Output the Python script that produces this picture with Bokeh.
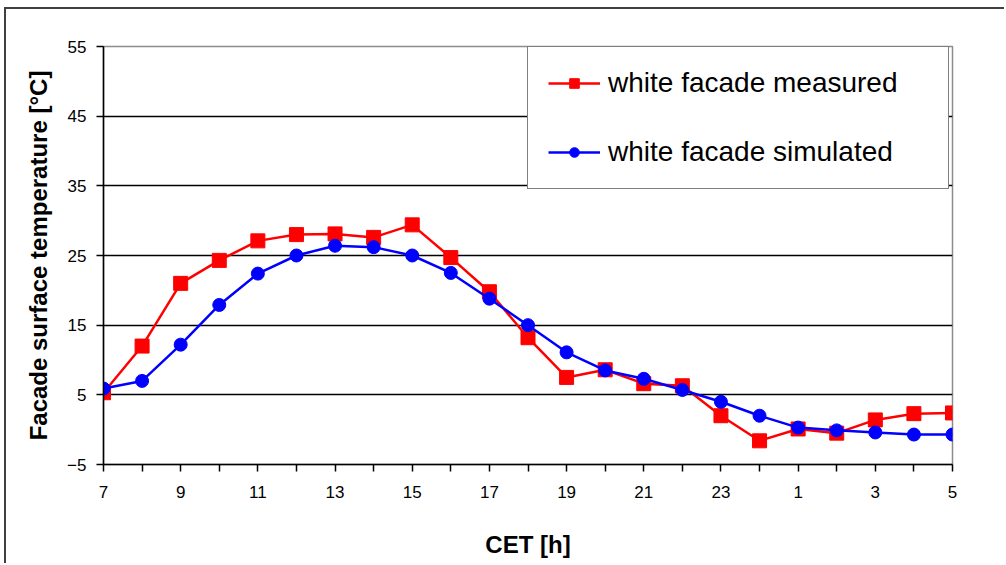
from bokeh.plotting import figure
from bokeh.models import FixedTicker, Legend, LegendItem, Range1d
from bokeh.embed import file_html
from bokeh.resources import INLINE

# ---- data ----
hours = [7, 8, 9, 10, 11, 12, 13, 14, 15, 16, 17, 18, 19, 20, 21, 22, 23, 24, 1, 2, 3, 4, 5]
measured = [5.3, 12.0, 21.0, 24.3, 27.1, 28.0, 28.1, 27.6, 29.4, 24.7, 19.8, 13.2,
            7.5, 8.6, 6.6, 6.3, 2.0, -1.6, 0.1, -0.5, 1.4, 2.3, 2.4]
simulated = [5.9, 7.0, 12.2, 17.9, 22.4, 25.0, 26.4, 26.2, 25.0, 22.5, 18.8, 15.0,
             11.1, 8.5, 7.3, 5.7, 4.0, 2.0, 0.3, -0.1, -0.4, -0.7, -0.7]
y_ticks = [-5, 5, 15, 25, 35, 45, 55]
series_names = ["white facade measured", "white facade simulated"]

x = list(range(len(hours)))

p = figure(width=1000, height=556, output_backend="svg", toolbar_location=None,
           x_range=Range1d(x[0], x[-1]), y_range=Range1d(y_ticks[0], y_ticks[-1]),
           min_border_left=97, min_border_right=54, min_border_top=37, min_border_bottom=101)

# outer chart-area border (left and top edges visible in the window)
p.styles = {"margin-left": "4px", "margin-top": "7px",
            "border-left": "2px solid #404040", "border-top": "2px solid #404040"}

p.background_fill_color = "white"
p.border_fill_color = "white"
p.outline_line_color = "#8c8c8c"
p.outline_line_width = 1.5

# grid
p.xgrid.visible = False
p.ygrid.ticker = FixedTicker(ticks=y_ticks[1:-1])
p.ygrid.grid_line_color = "black"
p.ygrid.grid_line_width = 1.5

# axes
p.xaxis.ticker = FixedTicker(ticks=x)
p.xaxis.major_label_overrides = {i: (str(h) if i % 2 == 0 else "") for i, h in zip(x, hours)}
p.yaxis.ticker = FixedTicker(ticks=y_ticks)
for ax in (p.xaxis[0], p.yaxis[0]):
    ax.axis_line_color = "black"
    ax.axis_line_width = 1.5
    ax.major_tick_line_color = "black"
    ax.major_tick_line_width = 1.5
    ax.major_tick_out = 7
    ax.major_tick_in = 0
    ax.minor_tick_line_color = None
    ax.major_label_text_font = "Liberation Sans"
    ax.major_label_text_font_size = "17px"
    ax.major_label_text_color = "black"
    ax.axis_label_text_font = "Liberation Sans"
    ax.axis_label_text_font_size = "24px"
    ax.axis_label_text_font_style = "bold"
    ax.axis_label_text_color = "black"

p.xaxis.axis_label = "CET [h]"
p.xaxis.major_label_standoff = 14
p.xaxis.axis_label_standoff = 30
p.yaxis.axis_label = "Facade surface temperature [°C]"
p.yaxis.major_label_standoff = 10
p.yaxis.axis_label_standoff = 12

# series
r1l = p.line(x, measured, line_color="#ff0000", line_width=2.5)
r1m = p.scatter(x, measured, marker="square", size=14, fill_color="#ff0000", line_color="#ff0000")
r2l = p.line(x, simulated, line_color="#0000ff", line_width=2.5)
r2m = p.scatter(x, simulated, marker="circle", size=13, fill_color="#0000ff", line_color="#0000ff")

legend = Legend(items=[LegendItem(label=series_names[0], renderers=[r1l, r1m]),
                       LegendItem(label=series_names[1], renderers=[r2l, r2m])],
                location=(424, 275), orientation="vertical",
                padding=20, spacing=37, glyph_width=52, glyph_height=24,
                label_height=24, label_width=320, label_standoff=8, margin=0,
                label_text_font="Liberation Sans", label_text_font_size="28px",
                label_text_color="black",
                border_line_color="black", border_line_width=1.5,
                background_fill_color="white", background_fill_alpha=1.0)
p.add_layout(legend, "center")

open("out.html", "w").write(file_html(p, INLINE))
